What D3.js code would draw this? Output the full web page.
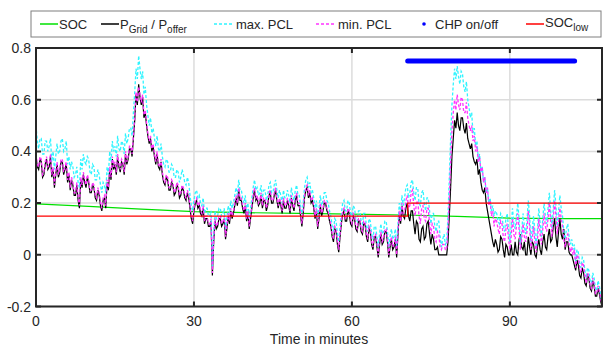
<!DOCTYPE html>
<html>
<head>
<meta charset="utf-8">
<script src="https://cdn.jsdelivr.net/npm/d3@7"></script>
<style>
  body { margin: 0; background: #fff; }
  svg text { font-family: "Liberation Sans", Arial, sans-serif; fill: #262626; }
</style>
</head>
<body>
<div id="chart"></div>
<script>
// time step of the sampled series, minutes
var step = 0.25

// P_Grid / P_offer, one row = 2.5 min
var pGrid = [
  0.38,0.34,0.33,0.37,0.36,0.30,0.31,0.35,0.37,0.33,
  0.34,0.38,0.30,0.33,0.26,0.31,0.35,0.30,0.32,0.36,
  0.36,0.31,0.33,0.35,0.28,0.31,0.25,0.29,0.27,0.23,
  0.23,0.27,0.21,0.18,0.29,0.26,0.31,0.28,0.26,0.30,
  0.28,0.24,0.24,0.27,0.26,0.22,0.21,0.25,0.23,0.19,
  0.17,0.21,0.22,0.18,0.28,0.25,0.33,0.29,0.37,0.33,
  0.35,0.31,0.38,0.34,0.32,0.36,0.35,0.31,0.39,0.35,
  0.37,0.41,0.41,0.38,0.45,0.52,0.62,0.58,0.66,0.61,
  0.58,0.61,0.53,0.55,0.50,0.46,0.43,0.45,0.40,0.42,
  0.38,0.35,0.39,0.34,0.33,0.36,0.31,0.28,0.27,0.30,
  0.29,0.25,0.25,0.28,0.27,0.23,0.24,0.27,0.26,0.22,
  0.23,0.26,0.25,0.22,0.21,0.24,0.22,0.18,0.14,0.12,
  0.17,0.20,0.21,0.18,0.19,0.16,0.15,0.18,0.12,0.14,
  0.14,0.11,0.11,0.13,-0.08,0.05,0.13,0.10,0.11,0.14,
  0.14,0.11,0.12,0.14,0.06,0.10,0.15,0.12,0.17,0.14,
  0.16,0.19,0.22,0.19,0.25,0.21,0.21,0.18,0.16,0.19,
  0.13,0.16,0.10,0.14,0.18,0.22,0.25,0.21,0.22,0.19,
  0.20,0.23,0.18,0.21,0.21,0.17,0.19,0.23,0.24,0.20,
  0.20,0.23,0.25,0.21,0.18,0.21,0.19,0.16,0.21,0.18,
  0.18,0.21,0.19,0.16,0.22,0.19,0.17,0.21,0.23,0.19,
  0.19,0.15,0.11,0.16,0.22,0.25,0.26,0.22,0.24,0.20,
  0.21,0.18,0.14,0.17,0.10,0.14,0.19,0.15,0.17,0.20,
  0.20,0.17,0.16,0.13,0.11,0.07,0.05,0.10,0.09,0.04,
  0.01,0.07,0.12,0.16,0.17,0.13,0.13,0.17,0.16,0.12,
  0.11,0.15,0.14,0.10,0.09,0.13,0.13,0.09,0.08,0.12,
  0.12,0.07,0.05,0.10,0.09,0.04,0.02,0.07,0.07,0.03,
  -0.01,0.04,0.08,0.04,0.05,0.09,0.09,0.05,-0.01,0.03,
  0.06,0.02,0.03,0.06,-0.01,0.08,0.16,0.12,0.19,0.15,
  0.14,0.18,0.20,0.15,0.13,0.17,0.17,0.12,0.08,0.13,
  0.12,0.06,0.05,0.10,0.11,0.06,0.07,0.12,0.13,0.08,
  0.04,0.08,0.06,0.02,0.02,0.03,0.00,0.00,0.00,0.00,
  0.00,0.00,0.00,0.05,0.15,0.26,0.38,0.45,0.52,0.49,
  0.55,0.50,0.48,0.53,0.53,0.49,0.47,0.51,0.45,0.43,
  0.41,0.43,0.38,0.36,0.35,0.37,0.31,0.33,0.28,0.25,
  0.24,0.26,0.20,0.17,0.14,0.11,0.08,0.05,0.03,0.06,
  0.04,0.01,0.02,0.07,0.06,0.02,-0.01,0.04,0.03,0.00,
  0.00,0.04,0.00,0.00,0.05,0.01,0.00,0.06,0.08,0.03,
  0.02,0.05,0.00,0.00,0.07,0.03,0.00,0.05,0.04,0.00,
  -0.01,0.03,0.06,0.02,0.00,0.05,0.08,0.03,0.02,0.07,
  0.10,0.05,0.06,0.11,0.14,0.07,0.03,0.09,0.14,0.08,
  0.06,0.10,0.02,0.05,0.05,0.01,0.00,0.00,-0.02,-0.04,
  -0.06,-0.02,-0.04,-0.08,-0.09,-0.05,-0.07,-0.11,-0.12,-0.08,
  -0.09,-0.13,-0.14,-0.10,-0.12,-0.16,-0.16,-0.13,-0.15,-0.18,
  -0.20
]

// max. PCL
var maxPcl = [
  0.50,0.44,0.41,0.45,0.45,0.39,0.39,0.44,0.44,0.40,
  0.42,0.45,0.36,0.40,0.33,0.38,0.43,0.39,0.40,0.44,
  0.45,0.40,0.41,0.44,0.35,0.38,0.33,0.36,0.34,0.30,
  0.31,0.34,0.28,0.26,0.37,0.33,0.39,0.36,0.35,0.38,
  0.37,0.32,0.31,0.35,0.34,0.29,0.29,0.33,0.31,0.27,
  0.24,0.28,0.27,0.24,0.34,0.31,0.40,0.36,0.44,0.40,
  0.42,0.38,0.46,0.41,0.40,0.44,0.43,0.39,0.47,0.43,
  0.45,0.49,0.49,0.46,0.55,0.63,0.72,0.68,0.77,0.72,
  0.68,0.71,0.62,0.65,0.58,0.54,0.50,0.53,0.47,0.49,
  0.45,0.42,0.46,0.41,0.40,0.43,0.38,0.35,0.34,0.37,
  0.36,0.32,0.32,0.35,0.34,0.30,0.30,0.33,0.32,0.28,
  0.30,0.33,0.31,0.28,0.27,0.30,0.28,0.23,0.19,0.17,
  0.21,0.24,0.25,0.22,0.23,0.20,0.19,0.22,0.16,0.18,
  0.18,0.15,0.15,0.17,-0.05,0.08,0.17,0.14,0.15,0.18,
  0.18,0.15,0.16,0.18,0.10,0.14,0.19,0.16,0.21,0.18,
  0.20,0.23,0.26,0.23,0.29,0.25,0.25,0.22,0.20,0.23,
  0.17,0.20,0.14,0.18,0.22,0.26,0.29,0.25,0.26,0.23,
  0.24,0.27,0.22,0.25,0.25,0.21,0.23,0.27,0.28,0.24,
  0.24,0.27,0.29,0.25,0.22,0.25,0.23,0.20,0.25,0.22,
  0.22,0.25,0.23,0.20,0.26,0.23,0.21,0.25,0.27,0.23,
  0.23,0.19,0.15,0.20,0.26,0.29,0.30,0.26,0.28,0.24,
  0.25,0.22,0.18,0.21,0.14,0.18,0.23,0.19,0.21,0.24,
  0.24,0.21,0.20,0.17,0.15,0.11,0.09,0.14,0.13,0.08,
  0.05,0.11,0.16,0.20,0.21,0.17,0.17,0.21,0.20,0.16,
  0.15,0.19,0.18,0.14,0.13,0.17,0.17,0.13,0.12,0.16,
  0.16,0.11,0.09,0.14,0.13,0.08,0.06,0.11,0.11,0.07,
  0.03,0.08,0.12,0.08,0.09,0.13,0.13,0.09,0.03,0.07,
  0.10,0.06,0.07,0.10,0.03,0.12,0.20,0.16,0.23,0.19,
  0.22,0.26,0.27,0.22,0.24,0.28,0.29,0.24,0.21,0.26,
  0.26,0.20,0.19,0.24,0.25,0.20,0.17,0.22,0.22,0.17,
  0.12,0.16,0.16,0.11,0.09,0.13,0.13,0.07,0.03,0.06,
  0.08,0.04,0.05,0.15,0.30,0.45,0.58,0.66,0.72,0.68,
  0.73,0.69,0.66,0.71,0.70,0.65,0.63,0.67,0.60,0.57,
  0.53,0.55,0.47,0.49,0.42,0.44,0.37,0.39,0.32,0.34,
  0.28,0.30,0.24,0.26,0.20,0.22,0.17,0.19,0.15,0.17,
  0.16,0.13,0.12,0.16,0.15,0.11,0.09,0.14,0.16,0.10,
  0.05,0.11,0.18,0.12,0.10,0.15,0.20,0.14,0.04,0.09,
  0.16,0.11,0.08,0.13,0.21,0.15,0.05,0.10,0.15,0.09,
  0.03,0.10,0.18,0.12,0.07,0.14,0.20,0.15,0.12,0.18,
  0.24,0.17,0.10,0.18,0.25,0.19,0.11,0.17,0.23,0.18,
  0.15,0.09,0.06,0.10,0.12,0.07,0.04,0.06,0.02,0.04,
  -0.03,0.02,0.01,-0.03,-0.05,-0.01,-0.02,-0.06,-0.09,-0.05,
  -0.06,-0.10,-0.11,-0.07,-0.09,-0.13,-0.14,-0.10,-0.12,-0.16,
  -0.18
]

// min. PCL
var minPcl = [
  0.39,0.35,0.34,0.38,0.37,0.31,0.32,0.36,0.38,0.34,
  0.35,0.39,0.31,0.34,0.27,0.32,0.36,0.31,0.33,0.37,
  0.37,0.32,0.34,0.36,0.29,0.32,0.26,0.30,0.28,0.24,
  0.24,0.28,0.22,0.19,0.30,0.27,0.32,0.29,0.27,0.31,
  0.29,0.25,0.25,0.28,0.27,0.23,0.22,0.26,0.24,0.20,
  0.18,0.22,0.23,0.19,0.29,0.26,0.34,0.30,0.38,0.34,
  0.36,0.32,0.39,0.35,0.33,0.37,0.36,0.32,0.40,0.36,
  0.38,0.42,0.42,0.39,0.46,0.53,0.63,0.59,0.65,0.62,
  0.59,0.62,0.54,0.56,0.51,0.47,0.44,0.46,0.41,0.43,
  0.39,0.36,0.40,0.35,0.34,0.37,0.32,0.29,0.28,0.31,
  0.30,0.26,0.26,0.29,0.28,0.24,0.25,0.28,0.27,0.23,
  0.24,0.27,0.26,0.23,0.22,0.25,0.23,0.19,0.15,0.13,
  0.18,0.21,0.22,0.19,0.20,0.17,0.16,0.19,0.13,0.15,
  0.15,0.12,0.12,0.14,-0.07,0.06,0.14,0.11,0.12,0.15,
  0.15,0.12,0.13,0.15,0.07,0.11,0.16,0.13,0.18,0.15,
  0.17,0.20,0.23,0.20,0.26,0.22,0.22,0.19,0.17,0.20,
  0.14,0.17,0.11,0.15,0.19,0.23,0.26,0.22,0.23,0.20,
  0.21,0.24,0.19,0.22,0.22,0.18,0.20,0.24,0.25,0.21,
  0.21,0.24,0.26,0.22,0.19,0.22,0.20,0.17,0.22,0.19,
  0.19,0.22,0.20,0.17,0.23,0.20,0.18,0.22,0.24,0.20,
  0.20,0.16,0.12,0.17,0.23,0.26,0.27,0.23,0.25,0.21,
  0.22,0.19,0.15,0.18,0.11,0.15,0.20,0.16,0.18,0.21,
  0.21,0.18,0.17,0.14,0.12,0.08,0.06,0.11,0.10,0.05,
  0.02,0.08,0.13,0.17,0.18,0.14,0.14,0.18,0.17,0.13,
  0.12,0.16,0.15,0.11,0.10,0.14,0.14,0.10,0.09,0.13,
  0.13,0.08,0.06,0.11,0.10,0.05,0.03,0.08,0.08,0.04,
  0.00,0.05,0.09,0.05,0.06,0.10,0.10,0.06,0.00,0.04,
  0.07,0.03,0.04,0.07,0.00,0.09,0.17,0.13,0.20,0.16,
  0.17,0.21,0.23,0.18,0.19,0.24,0.25,0.19,0.15,0.20,
  0.21,0.15,0.12,0.18,0.19,0.14,0.13,0.18,0.18,0.12,
  0.08,0.12,0.11,0.06,0.05,0.09,0.08,0.03,0.02,0.04,
  0.04,0.02,0.02,0.10,0.22,0.36,0.48,0.55,0.60,0.56,
  0.62,0.58,0.56,0.61,0.60,0.55,0.55,0.59,0.53,0.50,
  0.48,0.50,0.44,0.46,0.40,0.42,0.36,0.38,0.32,0.34,
  0.28,0.30,0.24,0.26,0.19,0.21,0.15,0.17,0.11,0.14,
  0.13,0.10,0.08,0.13,0.12,0.07,0.05,0.10,0.12,0.06,
  0.02,0.07,0.14,0.08,0.06,0.11,0.16,0.10,0.02,0.06,
  0.12,0.07,0.05,0.09,0.17,0.11,0.02,0.06,0.11,0.05,
  0.01,0.06,0.14,0.08,0.04,0.10,0.16,0.11,0.09,0.14,
  0.20,0.13,0.07,0.14,0.21,0.15,0.08,0.13,0.18,0.14,
  0.11,0.06,0.03,0.07,0.08,0.04,0.01,0.03,0.00,0.02,
  -0.05,0.00,-0.01,-0.05,-0.07,-0.03,-0.04,-0.08,-0.11,-0.07,
  -0.08,-0.12,-0.13,-0.09,-0.11,-0.15,-0.15,-0.12,-0.14,-0.17,
  -0.19
]

// SOC (time, value)
var soc = [[0,0.197],[10,0.187],[20,0.177],[30,0.167],[40,0.163],[50,0.160],
           [60,0.157],[70,0.154],[80,0.149],[90,0.142],[100,0.140],[107.5,0.140]]

// SOC_low (time, value)
var socLow = [[0,0.15],[70.6,0.15],[70.6,0.2],[107.5,0.2]]

// CHP on intervals, plotted at level 0.75
var chpOn = [[70.6, 102.3]]
var chpLevel = 0.75

var xTicks = [0, 30, 60, 90]
var yTicks = [-0.2, 0, 0.2, 0.4, 0.6, 0.8]

var width = 603, height = 347
var mL = 36, mR = 602, mT = 48, mB = 306.5

var x = d3.scaleLinear().domain([0, 107.5]).range([mL, mR])
var y = d3.scaleLinear().domain([-0.2, 0.8]).range([mB, mT])

var svg = d3.select("#chart").append("svg")
  .attr("width", width).attr("height", height)

// grid
svg.append("g").selectAll("line").data(xTicks).enter().append("line")
  .attr("x1", function(d) {return x(d)}).attr("x2", function(d) {return x(d)})
  .attr("y1", mT).attr("y2", mB)
  .attr("stroke", "#dcdcdc").attr("stroke-width", 1.5)
svg.append("g").selectAll("line").data(yTicks).enter().append("line")
  .attr("y1", function(d) {return y(d)}).attr("y2", function(d) {return y(d)})
  .attr("x1", mL).attr("x2", mR)
  .attr("stroke", "#dcdcdc").attr("stroke-width", 1.5)

svg.append("clipPath").attr("id", "clip").append("rect")
  .attr("x", mL).attr("y", mT).attr("width", mR - mL).attr("height", mB - mT)
var plot = svg.append("g").attr("clip-path", "url(#clip)")

var seriesLine = d3.line()
  .x(function(d, i) {return x(i * step)})
  .y(function(d) {return y(d)})
var pairLine = d3.line()
  .x(function(d) {return x(d[0])})
  .y(function(d) {return y(d[1])})

plot.append("path").datum(soc).attr("d", pairLine)
  .attr("fill", "none").attr("stroke", "#00e000").attr("stroke-width", 1.2)

plot.append("path").datum(pGrid).attr("d", seriesLine)
  .attr("fill", "none").attr("stroke", "#000").attr("stroke-width", 1.2)

plot.append("path").datum(maxPcl).attr("d", seriesLine)
  .attr("fill", "none").attr("stroke", "#2ff4ff").attr("stroke-width", 1.3)
  .attr("stroke-dasharray", "3,2")

plot.append("path").datum(minPcl).attr("d", seriesLine)
  .attr("fill", "none").attr("stroke", "#ff33ff").attr("stroke-width", 1.3)
  .attr("stroke-dasharray", "3,2")

plot.selectAll(".chp").data(chpOn).enter().append("line")
  .attr("class", "chp")
  .attr("x1", function(d) {return x(d[0])}).attr("x2", function(d) {return x(d[1])})
  .attr("y1", y(chpLevel)).attr("y2", y(chpLevel))
  .attr("stroke", "#0000ff").attr("stroke-width", 5).attr("stroke-linecap", "round")

plot.append("path").datum(socLow).attr("d", pairLine)
  .attr("fill", "none").attr("stroke", "#ff0000").attr("stroke-width", 1.2)

// axes box with inward ticks
var axisColor = "#262626"
var axes = svg.append("g")
axes.append("rect").attr("x", mL).attr("y", mT)
  .attr("width", mR - mL).attr("height", mB - mT)
  .attr("fill", "none").attr("stroke", axisColor).attr("stroke-width", 2)

var tickLen = 5
axes.selectAll(".xt").data(xTicks).enter().append("path")
  .attr("d", function(d) {
    return "M" + x(d) + "," + mB + "v" + (-tickLen) + "M" + x(d) + "," + mT + "v" + tickLen
  })
  .attr("stroke", axisColor).attr("stroke-width", 2)
axes.selectAll(".yt").data(yTicks).enter().append("path")
  .attr("d", function(d) {
    return "M" + mL + "," + y(d) + "h" + tickLen + "M" + mR + "," + y(d) + "h" + (-tickLen)
  })
  .attr("stroke", axisColor).attr("stroke-width", 2)

axes.selectAll(".xl").data(xTicks).enter().append("text")
  .attr("x", function(d) {return x(d)}).attr("y", mB + 19)
  .attr("text-anchor", "middle").attr("font-size", 14)
  .text(function(d) {return d})
axes.selectAll(".yl").data(yTicks).enter().append("text")
  .attr("x", mL - 5).attr("y", function(d) {return y(d) + 5})
  .attr("text-anchor", "end").attr("font-size", 14)
  .text(function(d) {return +d.toFixed(1)})

svg.append("text").attr("x", (mL + mR) / 2).attr("y", 344)
  .attr("text-anchor", "middle").attr("font-size", 14)
  .text("Time in minutes")

// legend
var lg = svg.append("g")
lg.append("rect").attr("x", 31).attr("y", 11).attr("width", 570).attr("height", 26)
  .attr("fill", "#fff").attr("stroke", "#7f7f7f").attr("stroke-width", 1)

var legendItems = [
  {x: 40, color: "#00e000", dash: null},
  {x: 101, color: "#000", dash: null},
  {x: 214, color: "#2ff4ff", dash: "3,2"},
  {x: 316, color: "#ff33ff", dash: "3,2"},
  {x: 526, color: "#ff0000", dash: null}
]
lg.selectAll(".ll").data(legendItems).enter().append("line")
  .attr("x1", function(d) {return d.x}).attr("x2", function(d) {return d.x + 18})
  .attr("y1", 24).attr("y2", 24)
  .attr("stroke", function(d) {return d.color}).attr("stroke-width", 1.5)
  .attr("stroke-dasharray", function(d) {return d.dash})
lg.append("circle").attr("cx", 424).attr("cy", 24).attr("r", 1.8).attr("fill", "#0000ff")

var ty = 29
lg.append("text").attr("x", 59).attr("y", ty).attr("font-size", 13).text("SOC")
var t2 = lg.append("text").attr("x", 120).attr("y", ty).attr("font-size", 13)
t2.append("tspan").text("P")
t2.append("tspan").attr("font-size", 10).attr("dy", 4).text("Grid")
t2.append("tspan").attr("dy", -4).text(" / P")
t2.append("tspan").attr("font-size", 10).attr("dy", 4).text("offer")
lg.append("text").attr("x", 236).attr("y", ty).attr("font-size", 13).text("max. PCL")
lg.append("text").attr("x", 338).attr("y", ty).attr("font-size", 13).text("min. PCL")
lg.append("text").attr("x", 435).attr("y", ty).attr("font-size", 13).text("CHP on/off")
var t6 = lg.append("text").attr("x", 545).attr("y", ty - 2).attr("font-size", 13)
t6.append("tspan").text("SOC")
t6.append("tspan").attr("font-size", 10).attr("dy", 4).text("low")
</script>
</body>
</html>
